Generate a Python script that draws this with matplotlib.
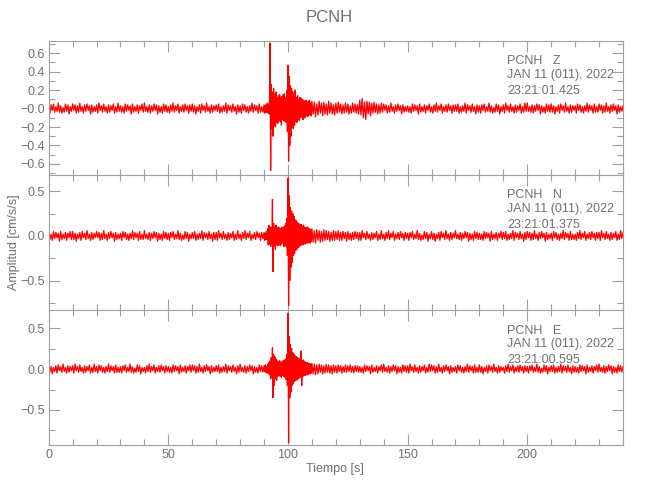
import numpy as np
import matplotlib
matplotlib.use('Agg')
import matplotlib.pyplot as plt
from matplotlib.ticker import MultipleLocator

plt.rcParams['font.family'] = ['Liberation Sans', 'DejaVu Sans']

AXIS_GRAY = '#a0a0a0'
TEXT_GRAY = '#707070'
RED = '#ff0000'

# --- trace values (cm/s/s) ---
# each trace: before event (0-90 s, 0.5 s), event (90-110 s, 0.25 s), after (110-240 s, 0.5 s)
z_pre = [
    0.03, -0.05, 0.04, -0.02, 0.05, -0.04, 0.02, -0.03, 0.06, -0.04, 0.03, -0.05, 0.01, -0.04, 0.05, -0.03, 0.04, -0.06, 0.02, -0.03,
    0.05, -0.02, 0.04, -0.05, 0.03, -0.04, 0.06, -0.03, 0.02, -0.05, 0.04, -0.03, 0.05, -0.02, 0.03, -0.06, 0.04, -0.04, 0.02, -0.03,
    0.04, -0.05, 0.06, -0.02, 0.03, -0.04, 0.05, -0.03, 0.02, -0.05, 0.04, -0.04, 0.03, -0.02, 0.05, -0.05, 0.02, -0.04, 0.06, -0.03,
    0.03, -0.04, 0.02, -0.05, 0.05, -0.03, 0.04, -0.02, 0.03, -0.06, 0.05, -0.04, 0.02, -0.03, 0.04, -0.05, 0.03, -0.02, 0.05, -0.04,
    0.06, -0.03, 0.02, -0.04, 0.04, -0.05, 0.03, -0.03, 0.05, -0.02, 0.04, -0.06, 0.03, -0.04, 0.02, -0.05, 0.05, -0.03, 0.04, -0.04,
    0.02, -0.05, 0.04, -0.03, 0.06, -0.04, 0.03, -0.02, 0.05, -0.05, 0.02, -0.03, 0.04, -0.04, 0.05, -0.02, 0.03, -0.05, 0.04, -0.03,
    0.05, -0.04, 0.03, -0.06, 0.02, -0.03, 0.04, -0.05, 0.05, -0.02, 0.03, -0.04, 0.06, -0.03, 0.02, -0.05, 0.04, -0.04, 0.03, -0.02,
    0.04, -0.03, 0.05, -0.05, 0.02, -0.04, 0.03, -0.03, 0.06, -0.05, 0.04, -0.02, 0.03, -0.04, 0.05, -0.03, 0.02, -0.06, 0.04, -0.04,
    0.03, -0.05, 0.05, -0.02, 0.04, -0.04, 0.02, -0.05, 0.03, -0.03, 0.06, -0.04, 0.04, -0.02, 0.03, -0.05, 0.05, -0.04, 0.02, -0.04]
z_event = [
    0.04, -0.05, 0.03, -0.04, 0.05, -0.04, 0.06, -0.05, 0.04, -0.06,
    0.71, -0.67,
    0.26, -0.22, 0.18, -0.30, 0.22, -0.18, 0.15, -0.20,
    0.18, -0.15, 0.12, -0.16, 0.14, -0.12, 0.15, -0.14,
    0.12, -0.18, 0.13, -0.12, 0.15, -0.13, 0.16, -0.14,
    0.12, -0.15, 0.20, -0.25,
    0.47, -0.57, 0.35, -0.40, 0.25, -0.30, 0.22, -0.20,
    0.18, -0.22, 0.15, -0.18, 0.20, -0.14, 0.12, -0.15,
    0.14, -0.12, 0.10, -0.13, 0.12, -0.10, 0.11, -0.09,
    0.10, -0.12, 0.09, -0.10, 0.08, -0.10, 0.09, -0.08,
    0.07, -0.09, 0.08, -0.07, 0.09, -0.07, 0.06, -0.08]
z_post = [
    0.08, -0.06, 0.07, -0.09, 0.05, -0.07, 0.08, -0.05, 0.06, -0.08, 0.07, -0.06, 0.05, -0.07, 0.08, -0.05, 0.06, -0.06, 0.04, -0.07,
    0.06, -0.05, 0.07, -0.04, 0.05, -0.06, 0.04, -0.05, 0.06, -0.04, 0.05, -0.06, 0.03, -0.05, 0.06, -0.04, 0.05, -0.05, 0.04, -0.06,
    0.09, -0.07, 0.11, -0.10, 0.07, -0.12, 0.08, -0.06, 0.07, -0.08, 0.06, -0.05, 0.07, -0.04, 0.05, -0.06, 0.04, -0.05, 0.06, -0.04,
    0.05, -0.02, 0.04, -0.05, 0.03, -0.04, 0.06, -0.03, 0.02, -0.05, 0.04, -0.03, 0.05, -0.02, 0.03, -0.06, 0.04, -0.04, 0.02, -0.03,
    0.03, -0.04, 0.02, -0.05, 0.05, -0.03, 0.04, -0.02, 0.03, -0.06, 0.05, -0.04, 0.02, -0.03, 0.04, -0.05, 0.03, -0.02, 0.05, -0.04,
    0.02, -0.05, 0.04, -0.03, 0.06, -0.04, 0.03, -0.02, 0.05, -0.05, 0.02, -0.03, 0.04, -0.04, 0.05, -0.02, 0.03, -0.05, 0.04, -0.03,
    0.04, -0.03, 0.05, -0.05, 0.02, -0.04, 0.03, -0.03, 0.06, -0.05, 0.04, -0.02, 0.03, -0.04, 0.05, -0.03, 0.02, -0.06, 0.04, -0.04,
    0.03, -0.05, 0.04, -0.02, 0.05, -0.04, 0.02, -0.03, 0.06, -0.04, 0.03, -0.05, 0.01, -0.04, 0.05, -0.03, 0.04, -0.06, 0.02, -0.03,
    0.04, -0.05, 0.06, -0.02, 0.03, -0.04, 0.05, -0.03, 0.02, -0.05, 0.04, -0.04, 0.03, -0.02, 0.05, -0.05, 0.02, -0.04, 0.06, -0.03,
    0.06, -0.03, 0.02, -0.04, 0.04, -0.05, 0.03, -0.03, 0.05, -0.02, 0.04, -0.06, 0.03, -0.04, 0.02, -0.05, 0.05, -0.03, 0.04, -0.04,
    0.05, -0.04, 0.03, -0.06, 0.02, -0.03, 0.04, -0.05, 0.05, -0.02, 0.03, -0.04, 0.06, -0.03, 0.02, -0.05, 0.04, -0.04, 0.03, -0.02,
    0.03, -0.05, 0.05, -0.02, 0.04, -0.04, 0.02, -0.05, 0.03, -0.03, 0.06, -0.04, 0.04, -0.02, 0.03, -0.05, 0.05, -0.04, 0.02, -0.04,
    0.05, -0.02, 0.04, -0.05, 0.03, -0.04, 0.06, -0.03, 0.02, -0.05, 0.04, -0.03, 0.05, -0.02, 0.03, -0.06, 0.04, -0.04, 0.02, -0.03,
    0.03]

n_pre = [
    0.03, -0.04, 0.02, -0.05, 0.05, -0.03, 0.04, -0.02, 0.03, -0.06, 0.05, -0.04, 0.02, -0.03, 0.04, -0.05, 0.03, -0.02, 0.05, -0.04,
    0.05, -0.04, 0.03, -0.06, 0.02, -0.03, 0.04, -0.05, 0.05, -0.02, 0.03, -0.04, 0.06, -0.03, 0.02, -0.05, 0.04, -0.04, 0.03, -0.02,
    0.05, -0.02, 0.04, -0.05, 0.03, -0.04, 0.06, -0.03, 0.02, -0.05, 0.04, -0.03, 0.05, -0.02, 0.03, -0.06, 0.04, -0.04, 0.02, -0.03,
    0.03, -0.05, 0.05, -0.02, 0.04, -0.04, 0.02, -0.05, 0.03, -0.03, 0.06, -0.04, 0.04, -0.02, 0.03, -0.05, 0.05, -0.04, 0.02, -0.04,
    0.06, -0.03, 0.02, -0.04, 0.04, -0.05, 0.03, -0.03, 0.05, -0.02, 0.04, -0.06, 0.03, -0.04, 0.02, -0.05, 0.05, -0.03, 0.04, -0.04,
    0.03, -0.05, 0.04, -0.02, 0.05, -0.04, 0.02, -0.03, 0.06, -0.04, 0.03, -0.05, 0.01, -0.04, 0.05, -0.03, 0.04, -0.06, 0.02, -0.03,
    0.04, -0.03, 0.05, -0.05, 0.02, -0.04, 0.03, -0.03, 0.06, -0.05, 0.04, -0.02, 0.03, -0.04, 0.05, -0.03, 0.02, -0.06, 0.04, -0.04,
    0.04, -0.05, 0.06, -0.02, 0.03, -0.04, 0.05, -0.03, 0.02, -0.05, 0.04, -0.04, 0.03, -0.02, 0.05, -0.05, 0.02, -0.04, 0.06, -0.03,
    0.02, -0.05, 0.04, -0.03, 0.06, -0.04, 0.03, -0.02, 0.05, -0.05, 0.02, -0.03, 0.04, -0.04, 0.05, -0.02, 0.03, -0.05, 0.04, -0.03]
n_event = [
    0.04, -0.05, 0.03, -0.04, 0.05, -0.04,
    0.08, -0.10, 0.12, -0.09, 0.10, -0.12, 0.09, -0.10,
    0.41, -0.40,
    0.14, -0.12, 0.10, -0.15, 0.12, -0.10, 0.09, -0.11,
    0.10, -0.08, 0.09, -0.11, 0.08, -0.09, 0.10, -0.08,
    0.09, -0.12, 0.11, -0.10, 0.14, -0.12, 0.20, -0.22,
    0.65, -0.78, 0.45, -0.50, 0.32, -0.35, 0.28, -0.30,
    0.25, -0.22, 0.22, -0.20, 0.18, -0.16, 0.17, -0.15,
    0.15, -0.13, 0.14, -0.12, 0.12, -0.11, 0.13, -0.10,
    0.11, -0.10, 0.12, -0.09, 0.10, -0.09, 0.09, -0.08,
    0.10, -0.08, 0.09, -0.07, 0.08, -0.08, 0.07, -0.06]
n_post = [
    0.08, -0.07, 0.06, -0.08, 0.07, -0.05, 0.06, -0.07, 0.05, -0.06, 0.07, -0.05, 0.06, -0.04, 0.05, -0.06, 0.04, -0.05, 0.06, -0.05,
    0.05, -0.04, 0.06, -0.05, 0.04, -0.05, 0.05, -0.03, 0.04, -0.06, 0.05, -0.04, 0.03, -0.05, 0.04, -0.04, 0.05, -0.03, 0.04, -0.05,
    0.04, -0.05, 0.06, -0.02, 0.03, -0.04, 0.05, -0.03, 0.02, -0.05, 0.04, -0.04, 0.03, -0.02, 0.05, -0.05, 0.02, -0.04, 0.06, -0.03,
    0.02, -0.05, 0.04, -0.03, 0.06, -0.04, 0.03, -0.02, 0.05, -0.05, 0.02, -0.03, 0.04, -0.04, 0.05, -0.02, 0.03, -0.05, 0.04, -0.03,
    0.03, -0.05, 0.04, -0.02, 0.05, -0.04, 0.02, -0.03, 0.06, -0.04, 0.03, -0.05, 0.01, -0.04, 0.05, -0.03, 0.04, -0.06, 0.02, -0.03,
    0.05, -0.04, 0.03, -0.06, 0.02, -0.03, 0.04, -0.05, 0.05, -0.02, 0.03, -0.04, 0.06, -0.03, 0.02, -0.05, 0.04, -0.04, 0.03, -0.02,
    0.06, -0.03, 0.02, -0.04, 0.04, -0.05, 0.03, -0.03, 0.05, -0.02, 0.04, -0.06, 0.03, -0.04, 0.02, -0.05, 0.05, -0.03, 0.04, -0.04,
    0.03, -0.04, 0.02, -0.05, 0.05, -0.03, 0.04, -0.02, 0.03, -0.06, 0.05, -0.04, 0.02, -0.03, 0.04, -0.05, 0.03, -0.02, 0.05, -0.04,
    0.04, -0.03, 0.05, -0.05, 0.02, -0.04, 0.03, -0.03, 0.06, -0.05, 0.04, -0.02, 0.03, -0.04, 0.05, -0.03, 0.02, -0.06, 0.04, -0.04,
    0.05, -0.02, 0.04, -0.05, 0.03, -0.04, 0.06, -0.03, 0.02, -0.05, 0.04, -0.03, 0.05, -0.02, 0.03, -0.06, 0.04, -0.04, 0.02, -0.03,
    0.03, -0.05, 0.05, -0.02, 0.04, -0.04, 0.02, -0.05, 0.03, -0.03, 0.06, -0.04, 0.04, -0.02, 0.03, -0.05, 0.05, -0.04, 0.02, -0.04,
    0.02, -0.05, 0.04, -0.03, 0.06, -0.04, 0.03, -0.02, 0.05, -0.05, 0.02, -0.03, 0.04, -0.04, 0.05, -0.02, 0.03, -0.05, 0.04, -0.03,
    0.04, -0.05, 0.06, -0.02, 0.03, -0.04, 0.05, -0.03, 0.02, -0.05, 0.04, -0.04, 0.03, -0.02, 0.05, -0.05, 0.02, -0.04, 0.06, -0.03,
    0.04]

e_pre = [
    0.05, -0.04, 0.03, -0.06, 0.02, -0.03, 0.04, -0.05, 0.05, -0.02, 0.03, -0.04, 0.06, -0.03, 0.02, -0.05, 0.04, -0.04, 0.03, -0.02,
    0.04, -0.05, 0.06, -0.02, 0.03, -0.04, 0.05, -0.03, 0.02, -0.05, 0.04, -0.04, 0.03, -0.02, 0.05, -0.05, 0.02, -0.04, 0.06, -0.03,
    0.03, -0.05, 0.05, -0.02, 0.04, -0.04, 0.02, -0.05, 0.03, -0.03, 0.06, -0.04, 0.04, -0.02, 0.03, -0.05, 0.05, -0.04, 0.02, -0.04,
    0.03, -0.05, 0.04, -0.02, 0.05, -0.04, 0.02, -0.03, 0.06, -0.04, 0.03, -0.05, 0.01, -0.04, 0.05, -0.03, 0.04, -0.06, 0.02, -0.03,
    0.02, -0.05, 0.04, -0.03, 0.06, -0.04, 0.03, -0.02, 0.05, -0.05, 0.02, -0.03, 0.04, -0.04, 0.05, -0.02, 0.03, -0.05, 0.04, -0.03,
    0.03, -0.04, 0.02, -0.05, 0.05, -0.03, 0.04, -0.02, 0.03, -0.06, 0.05, -0.04, 0.02, -0.03, 0.04, -0.05, 0.03, -0.02, 0.05, -0.04,
    0.05, -0.02, 0.04, -0.05, 0.03, -0.04, 0.06, -0.03, 0.02, -0.05, 0.04, -0.03, 0.05, -0.02, 0.03, -0.06, 0.04, -0.04, 0.02, -0.03,
    0.04, -0.03, 0.05, -0.05, 0.02, -0.04, 0.03, -0.03, 0.06, -0.05, 0.04, -0.02, 0.03, -0.04, 0.05, -0.03, 0.02, -0.06, 0.04, -0.04,
    0.06, -0.03, 0.02, -0.04, 0.04, -0.05, 0.03, -0.03, 0.05, -0.02, 0.04, -0.06, 0.03, -0.04, 0.02, -0.05, 0.05, -0.03, 0.04, -0.04]
e_event = [
    0.04, -0.03, 0.05, -0.04, 0.03, -0.05, 0.06, -0.05, 0.08, -0.07,
    0.10, -0.12, 0.14, -0.10,
    0.26, -0.35,
    0.18, -0.20, 0.15, -0.12, 0.12, -0.14, 0.10, -0.09,
    0.09, -0.08, 0.10, -0.09, 0.08, -0.10, 0.09, -0.08,
    0.10, -0.09, 0.11, -0.10, 0.12, -0.13, 0.18, -0.20,
    0.68, -0.90, 0.40, -0.35, 0.30, -0.28, 0.25, -0.20,
    0.20, -0.18, 0.18, -0.15, 0.16, -0.14, 0.15, -0.13,
    0.14, -0.12, 0.13, -0.11, 0.12, -0.10, 0.22, -0.20,
    0.10, -0.09, 0.11, -0.08, 0.09, -0.08, 0.08, -0.07,
    0.08, -0.07, 0.07, -0.06, 0.07, -0.06, 0.06, -0.05]
e_post = [
    0.07, -0.06, 0.06, -0.07, 0.05, -0.06, 0.06, -0.04, 0.05, -0.06, 0.04, -0.05, 0.06, -0.04, 0.05, -0.05, 0.04, -0.06, 0.05, -0.04,
    0.04, -0.05, 0.05, -0.03, 0.04, -0.05, 0.03, -0.04, 0.05, -0.04, 0.04, -0.03, 0.05, -0.04, 0.03, -0.05, 0.04, -0.03, 0.04, -0.04,
    0.03, -0.04, 0.02, -0.05, 0.05, -0.03, 0.04, -0.02, 0.03, -0.06, 0.05, -0.04, 0.02, -0.03, 0.04, -0.05, 0.03, -0.02, 0.05, -0.04,
    0.06, -0.03, 0.02, -0.04, 0.04, -0.05, 0.03, -0.03, 0.05, -0.02, 0.04, -0.06, 0.03, -0.04, 0.02, -0.05, 0.05, -0.03, 0.04, -0.04,
    0.04, -0.05, 0.06, -0.02, 0.03, -0.04, 0.05, -0.03, 0.02, -0.05, 0.04, -0.04, 0.03, -0.02, 0.05, -0.05, 0.02, -0.04, 0.06, -0.03,
    0.05, -0.02, 0.04, -0.05, 0.03, -0.04, 0.06, -0.03, 0.02, -0.05, 0.04, -0.03, 0.05, -0.02, 0.03, -0.06, 0.04, -0.04, 0.02, -0.03,
    0.03, -0.05, 0.05, -0.02, 0.04, -0.04, 0.02, -0.05, 0.03, -0.03, 0.06, -0.04, 0.04, -0.02, 0.03, -0.05, 0.05, -0.04, 0.02, -0.04,
    0.05, -0.04, 0.03, -0.06, 0.02, -0.03, 0.04, -0.05, 0.05, -0.02, 0.03, -0.04, 0.06, -0.03, 0.02, -0.05, 0.04, -0.04, 0.03, -0.02,
    0.02, -0.05, 0.04, -0.03, 0.06, -0.04, 0.03, -0.02, 0.05, -0.05, 0.02, -0.03, 0.04, -0.04, 0.05, -0.02, 0.03, -0.05, 0.04, -0.03,
    0.03, -0.05, 0.04, -0.02, 0.05, -0.04, 0.02, -0.03, 0.06, -0.04, 0.03, -0.05, 0.01, -0.04, 0.05, -0.03, 0.04, -0.06, 0.02, -0.03,
    0.04, -0.03, 0.05, -0.05, 0.02, -0.04, 0.03, -0.03, 0.06, -0.05, 0.04, -0.02, 0.03, -0.04, 0.05, -0.03, 0.02, -0.06, 0.04, -0.04,
    0.03, -0.04, 0.02, -0.05, 0.05, -0.03, 0.04, -0.02, 0.03, -0.06, 0.05, -0.04, 0.02, -0.03, 0.04, -0.05, 0.03, -0.02, 0.05, -0.04,
    0.06, -0.03, 0.02, -0.04, 0.04, -0.05, 0.03, -0.03, 0.05, -0.02, 0.04, -0.06, 0.03, -0.04, 0.02, -0.05, 0.05, -0.03, 0.04, -0.04,
    0.03]

components = ['Z', 'N', 'E']
start_times = ['23:21:01.425', '23:21:01.375', '23:21:00.595']
date_label = 'JAN 11 (011), 2022'
station = 'PCNH'

ylims = [(-0.72, 0.735), (-0.83, 0.683), (-0.927, 0.72)]
yticks = [[-0.6, -0.4, -0.2, 0.0, 0.2, 0.4, 0.6], [-0.5, 0.0, 0.5], [-0.5, 0.0, 0.5]]
yticklabels = [['−0.6', '−0.4', '−0.2', '−0.0', '0.2', '0.4', '0.6'],
               ['−0.5', '0.0', '0.5'], ['−0.5', '0.0', '0.5']]
yminor = [0.1, 0.25, 0.25]
xticks = [0, 50, 100, 150, 200]


def build(pre, event, post):
    t = np.concatenate([np.linspace(0, 90, len(pre), endpoint=False),
                        np.linspace(90, 110, len(event), endpoint=False),
                        np.linspace(110, 240, len(post))])
    return t, np.array(pre + event + post)


traces = [build(z_pre, z_event, z_post),
          build(n_pre, n_event, n_post),
          build(e_pre, e_event, e_post)]

W, H = 650, 500
fig = plt.figure(figsize=(W / 100, H / 100), dpi=100)

left, right = 48.7, 623
tops = [40.7, 175, 310]
bottoms = [175, 310, 445]

for i in range(3):
    ax = fig.add_axes([left / W, 1 - bottoms[i] / H, (right - left) / W,
                       (bottoms[i] - tops[i]) / H])
    t, v = traces[i]
    ax.plot(t, v, color=RED, lw=0.9)
    ax.set_xlim(0, 240)
    ax.set_ylim(*ylims[i])
    ax.set_xticks(xticks)
    ax.xaxis.set_minor_locator(MultipleLocator(10))
    ax.set_yticks(yticks[i])
    ax.set_yticklabels(yticklabels[i])
    ax.yaxis.set_minor_locator(MultipleLocator(yminor[i]))
    ax.tick_params(which='both', direction='in', top=True, right=True,
                   color=AXIS_GRAY, width=0.8, labelsize=9,
                   labelcolor=TEXT_GRAY, pad=3)
    ax.tick_params(which='major', length=8)
    ax.tick_params(which='minor', length=4)
    for s in ax.spines.values():
        s.set_color(AXIS_GRAY)
        s.set_linewidth(0.8)
    if i < 2:
        ax.set_xticklabels([])
    h = bottoms[i] - tops[i]
    tx = (507 - left) / (right - left)
    for off, txt in zip([20.5, 34, 50],
                        [f'{station}   {components[i]}', date_label, start_times[i]]):
        ax.text(tx, 1 - off / h, txt, transform=ax.transAxes, ha='left',
                va='center', fontsize=9, color=TEXT_GRAY)

fig.text(329 / W, 1 - 18 / H, station, ha='center', va='center',
         fontsize=12, color=TEXT_GRAY)
fig.text(335 / W, 1 - 469 / H, 'Tiempo [s]', ha='center', va='center',
         fontsize=9, color=TEXT_GRAY)
fig.text(14 / W, 1 - 242 / H, 'Amplitud [cm/s/s]', ha='center', va='center',
         rotation=90, fontsize=9, color=TEXT_GRAY)

fig.savefig('out.png', dpi=100)
